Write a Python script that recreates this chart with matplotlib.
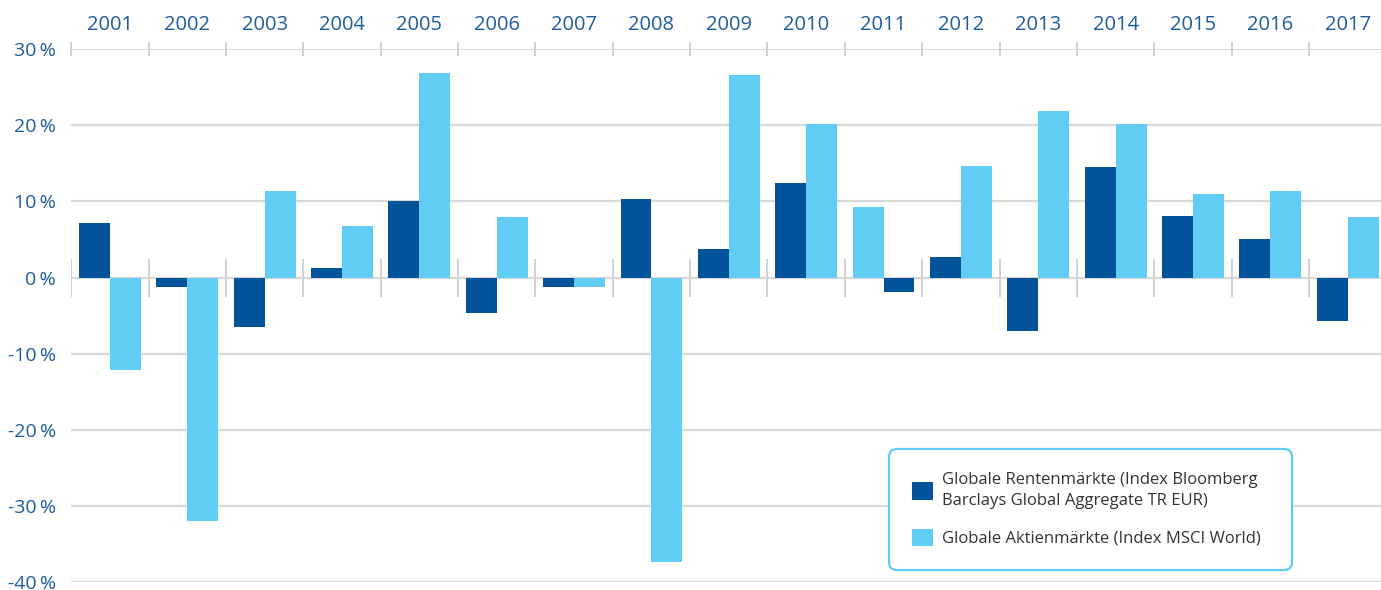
import numpy as np
import matplotlib
matplotlib.use("Agg")
import matplotlib.pyplot as plt
from matplotlib.patches import Rectangle
from matplotlib.legend_handler import HandlerPatch

plt.rcParams['font.family'] = ['Open Sans', 'DejaVu Sans']

# Data (annual returns in %)
years = ['2001', '2002', '2003', '2004', '2005', '2006', '2007', '2008', '2009',
         '2010', '2011', '2012', '2013', '2014', '2015', '2016', '2017']
renten = [7.1, -1.25, -6.55, 1.3, 10.0, -4.7, -1.3, 10.25, 3.8,
          12.45, -1.95, 2.65, -6.95, 14.45, 8.05, 5.1, -5.75]
aktien = [-12.1, -31.9, 11.3, 6.8, 26.8, 7.9, -1.3, -37.3, 26.65,
          20.1, 9.2, 14.7, 21.8, 20.1, 11.0, 11.3, 8.0]
# in the original the bar order is flipped for this year
swapped = ['2011']
y_ticks = [-40, -30, -20, -10, 0, 10, 20, 30]

label_renten = 'Globale Rentenmärkte (Index Bloomberg\nBarclays Global Aggregate TR EUR)'
label_aktien = 'Globale Aktienmärkte (Index MSCI World)'

dark = '#03539b'
light = '#61cdf4'
grid_col = '#d9d9d9'
tick_col = '#1f5c9e'

W, H = 1381, 590
fig = plt.figure(figsize=(W / 100, H / 100), dpi=100)
ax = fig.add_axes([71.3 / W, 7.7 / H, 1315 / W, 533.3 / H])

x = np.arange(len(years)) + 0.5
bw = 0.4
sign = np.array([1 if y in swapped else -1 for y in years])

# gridlines
for v in y_ticks:
    ax.axhline(v, color=grid_col, lw=1.6, zorder=0)

b1 = ax.bar(x + sign * bw / 2, renten, bw, color=dark, zorder=2, label=label_renten)
b2 = ax.bar(x - sign * bw / 2, aktien, bw, color=light, zorder=2, label=label_aktien)

# category separators at top and on the zero line
bounds = np.arange(len(years) + 1)
ax.vlines(bounds, -2.5, 2.5, color='#d0d0d0', lw=1.4, zorder=1)
ax.vlines(bounds, 29.1, 30.9, color='#d0d0d0', lw=1.4, zorder=1, clip_on=False)

ax.set_xlim(0, len(years))
ax.set_ylim(-40, 30)

for s in ax.spines.values():
    s.set_visible(False)

ax.xaxis.tick_top()
ax.set_xticks(x, years)
ax.set_yticks(y_ticks, [f'{v}\u2009%' for v in y_ticks])
ax.tick_params(axis='x', length=0, pad=10, labelsize=14.5, labelcolor=tick_col)
ax.tick_params(axis='y', length=0, pad=11, labelsize=14, labelcolor=tick_col)


# legend squares sit at the top of a two-line label
def top_square(legend, orig_handle, xdescent, ydescent, width, height, fontsize):
    shift = 0
    if orig_handle.get_label() == label_renten:
        shift = 0.6 * fontsize
    return Rectangle((-xdescent, -ydescent + shift), width, height)


leg = ax.legend(handles=[b1.patches[0], b2.patches[0]],
                labels=[label_renten, label_aktien],
                handler_map={Rectangle: HandlerPatch(patch_func=top_square)},
                loc='upper left', mode='expand',
                bbox_to_anchor=(889 / W, 1 - 566 / H, 403 / W, 117 / H),
                bbox_transform=fig.transFigure, borderaxespad=0,
                fontsize=12, handlelength=1.25, handleheight=1.25,
                handletextpad=0.55, labelspacing=1.2, borderpad=1.4,
                frameon=True, fancybox=True, labelcolor='#333333')
for t in leg.get_texts():
    t.set_linespacing(1.35)
    t.set_fontweight('medium')
frame = leg.get_frame()
frame.set_edgecolor('#5bcdf3')
frame.set_linewidth(1.6)
frame.set_boxstyle('round,pad=0,rounding_size=0.5')
frame.set_alpha(1)

fig.savefig('out.png', dpi=100)
